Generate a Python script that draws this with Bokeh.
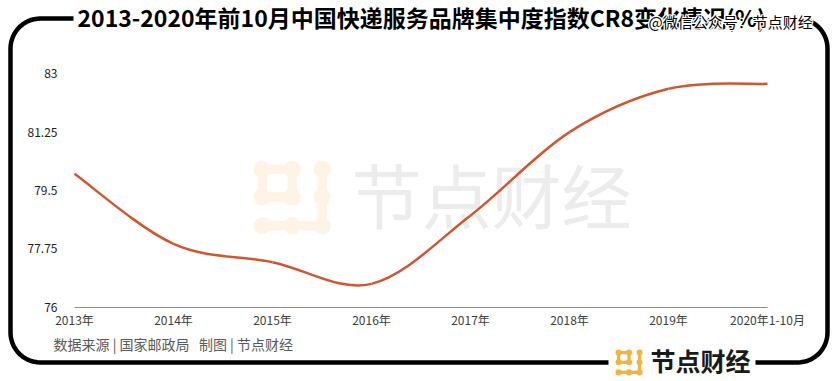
import numpy as np
from bokeh.plotting import figure
from bokeh.models import Range1d, Label, BoxAnnotation, PolyAnnotation, FixedTicker, LinearAxis
from bokeh.embed import file_html
from bokeh.resources import INLINE

# ---- data ----
categories = ["2013年", "2014年", "2015年", "2016年", "2017年", "2018年", "2019年", "2020年1-10月"]
cr8 = [80.0, 77.9, 77.35, 76.7, 78.75, 81.25, 82.55, 82.7]
y_ticks = [76, 77.75, 79.5, 81.25, 83]
y_tick_labels = ["76", "77.75", "79.5", "81.25", "83"]

title_text = "2013-2020年前10月中国快递服务品牌集中度指数CR8变化情况(%)"
wechat_text = "@微信公众号：节点财经"
source_text = "数据来源 | 国家邮政局\u00a0\u00a0\u00a0制图 | 节点财经"
brand_text = "节点财经"

FONT = "Noto Sans CJK SC"
LINE_COLOR = "#d0562e"

# ---- layout (canvas pixels) ----
W, H = 834, 380
PX_LEFT, PX_RIGHT = 74, 767      # where first / last category sit
PX_TOP, PX_BOTTOM = 73.3, 306.7  # where top / bottom y tick sit
nx = len(categories) - 1
ymin, ymax = y_ticks[0], y_ticks[-1]
ppx = (PX_RIGHT - PX_LEFT) / nx
ppy = (PX_BOTTOM - PX_TOP) / (ymax - ymin)
x_range = Range1d(0 - PX_LEFT / ppx, nx + (W - PX_RIGHT) / ppx)
y_range = Range1d(ymin - (H - PX_BOTTOM) / ppy, ymax + PX_TOP / ppy)

p = figure(width=W, height=H, output_backend="svg", toolbar_location=None,
           x_range=x_range, y_range=y_range, x_axis_type=None, y_axis_type=None,
           min_border=0)
p.background_fill_color = "white"
p.border_fill_color = "white"
p.outline_line_color = None

xaxis = LinearAxis(fixed_location=ymin, bounds=(0, nx),
                   ticker=FixedTicker(ticks=list(range(len(categories)))),
                   major_label_overrides={i: c for i, c in enumerate(categories)},
                   axis_line_color="#8c8c8c", axis_line_width=1,
                   major_tick_line_color=None, minor_tick_line_color=None,
                   major_label_standoff=-2, major_label_text_font=FONT,
                   major_label_text_font_size="12px", major_label_text_color="#404040")
p.add_layout(xaxis, "below")

yaxis = LinearAxis(fixed_location=0, bounds=(ymin, ymax),
                   ticker=FixedTicker(ticks=y_ticks),
                   major_label_overrides={t: l for t, l in zip(y_ticks, y_tick_labels)},
                   axis_line_color=None, major_tick_line_color=None, minor_tick_line_color=None,
                   major_label_standoff=11, major_label_text_font=FONT,
                   major_label_text_font_size="12px", major_label_text_color="#222222")
p.add_layout(yaxis, "left")

# ---- smooth line (Catmull-Rom -> cubic Bezier) ----
xs = np.arange(len(cr8), dtype=float)
ys = np.array(cr8, dtype=float)
xp = np.concatenate([[xs[0]], xs, [xs[-1]]])
yp = np.concatenate([[ys[0]], ys, [ys[-1]]])
n = len(xs)
x0 = xs[:-1]; y0 = ys[:-1]; x1 = xs[1:]; y1 = ys[1:]
cx0 = x0 + (xp[2:n + 1] - xp[0:n - 1]) / 6.0
cy0 = y0 + (yp[2:n + 1] - yp[0:n - 1]) / 6.0
cx1 = x1 - (xp[3:n + 2] - xp[1:n]) / 6.0
cy1 = y1 - (yp[3:n + 2] - yp[1:n]) / 6.0
p.bezier(x0=x0, y0=y0, x1=x1, y1=y1, cx0=cx0, cy0=cy0, cx1=cx1, cy1=cy1,
         line_color=LINE_COLOR, line_width=2.5)


# ---- decoration helpers (canvas pixel coords, origin top-left) ----
def box(l, t, r, b, color, radius=0, level="annotation"):
    p.add_layout(BoxAnnotation(left=l, right=r, top=t, bottom=b,
                               left_units="canvas", right_units="canvas",
                               top_units="canvas", bottom_units="canvas",
                               fill_color=color, fill_alpha=1, line_color=None,
                               border_radius=int(round(radius)), level=level))


def label(text, x, y, size, color, style="normal", align="left", level="annotation"):
    p.add_layout(Label(x=x, y=y - 0.07 * size, x_units="canvas", y_units="canvas", text=text,
                       text_font=FONT, text_font_size=f"{size}px", text_color=color,
                       text_font_style=style, text_align=align, text_baseline="middle",
                       level=level))


def logo(ox, oy, s, color, level="annotation"):
    # 3x3 dot grid: ring of 4 dots top-left, right column, bottom row
    D = 17.4 * s
    th = 9.5 * s
    cols = [ox + 8.7 * s, ox + 38.7 * s, ox + 68.7 * s]
    rows = [oy + 8.7 * s, oy + 36.5 * s, oy + 65.3 * s]
    links = [((0, 0), (1, 0)), ((0, 1), (1, 1)), ((0, 0), (0, 1)), ((1, 0), (1, 1)),
             ((2, 0), (2, 2)), ((0, 2), (2, 2))]
    for (c0, r0), (c1, r1) in links:
        if r0 == r1:
            box(cols[c0], rows[r0] - th / 2, cols[c1], rows[r0] + th / 2, color, 0, level)
        else:
            box(cols[c0] - th / 2, rows[r0], cols[c0] + th / 2, rows[r1], color, 0, level)
    dots = [(0, 0), (1, 0), (0, 1), (1, 1), (2, 0), (2, 1), (2, 2), (0, 2), (1, 2)]
    for c, r in dots:
        box(cols[c] - D / 2, rows[r] - D / 2, cols[c] + D / 2, rows[r] + D / 2, color, D / 2, level)


# ---- watermark (behind line) ----
logo(253, 160, 1.0, "#fdf4e6", level="underlay")
label(brand_text, 351, 198, 70, "#ececec", level="underlay")

# ---- rounded frame ----
L, T, R, B, RAD = 10, 18, 827, 362, 30


def arc(cx_, cy_, a0, a1):
    a = np.linspace(np.radians(a0), np.radians(a1), 16)
    return list(cx_ + RAD * np.cos(a)), list(cy_ + RAD * np.sin(a))


fx, fy = [], []
for (cxx, cyy, a0, a1) in [(L + RAD, T + RAD, 180, 270), (R - RAD, T + RAD, 270, 360),
                           (R - RAD, B - RAD, 0, 90), (L + RAD, B - RAD, 90, 180)]:
    ax_, ay_ = arc(cxx, cyy, a0, a1)
    fx += ax_
    fy += ay_
p.add_layout(PolyAnnotation(xs=fx, ys=fy, xs_units="canvas", ys_units="canvas",
                            fill_alpha=0, line_color="black", line_alpha=1, line_width=4.5))

# gaps in the frame
box(73, 12, 806, 24, "white")
box(608, 354, 755, 371, "white")

# ---- title ----
label(title_text, 77, 18, 23, "black", style="bold")
for dx, dy in [(-1.2, 0), (1.2, 0), (0, -1.2), (0, 1.2), (-1, -1), (1, 1), (-1, 1), (1, -1)]:
    label(wechat_text, 648 + dx, 22 + dy, 15, "white")
label(wechat_text, 648, 22, 15, "black")

# ---- source ----
label(source_text, 53, 344, 14, "#595959")

# ---- bottom brand ----
logo(615, 349, 0.35, "#f2b441")
label(brand_text, 650, 361, 25, "#1a1a1a", style="bold")

open("out.html", "w").write(file_html(p, INLINE))
